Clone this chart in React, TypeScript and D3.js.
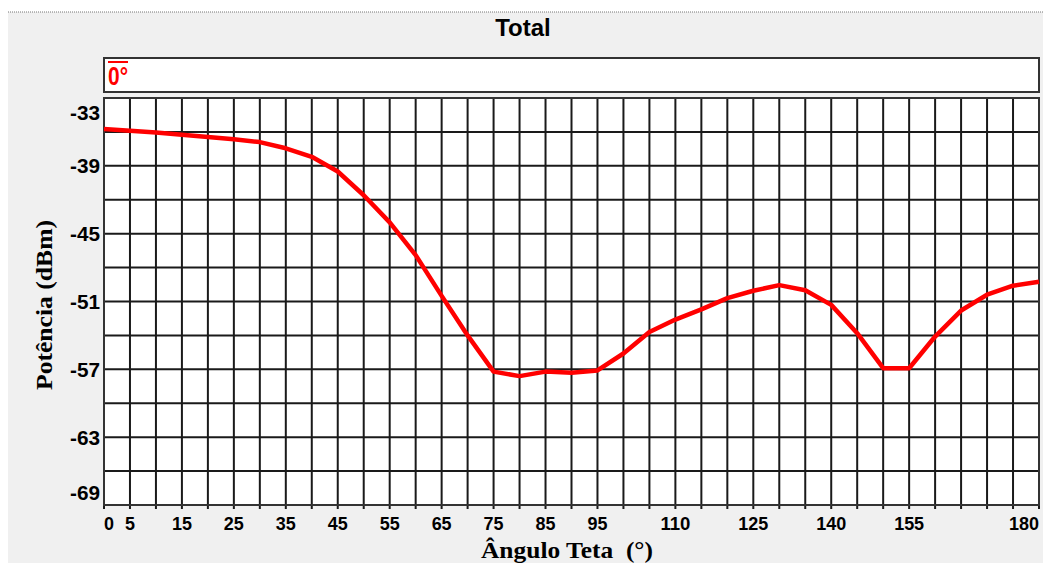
import React from "react";
import * as d3 from "d3";

const angles = [0, 5, 10, 15, 20, 25, 30, 35, 40, 45, 50, 55, 60, 65, 70, 75, 80, 85, 90, 95, 100, 105, 110, 115, 120, 125, 130, 135, 140, 145, 150, 155, 160, 165, 170, 175, 180];
const power = [-35.75, -35.9, -36.05, -36.25, -36.45, -36.65, -36.9, -37.45, -38.2, -39.5, -41.6, -44.0, -46.9, -50.5, -54.0, -57.2, -57.6, -57.2, -57.3, -57.1, -55.6, -53.7, -52.6, -51.7, -50.7, -50.05, -49.55, -50.0, -51.3, -53.8, -56.9, -56.9, -54.1, -51.8, -50.4, -49.6, -49.25];
const xTickLabels = [0, 5, 15, 25, 35, 45, 55, 65, 75, 85, 95, 110, 125, 140, 155, 180];
const yTickLabels = [-33, -39, -45, -51, -57, -63, -69];
const seriesName = "0°";
const chartTitle = "Total";
const xTitle = "Ângulo Teta\u00a0\u00a0(°)";
const yTitle = "Potência (dBm)";

const W = 1047;
const H = 563;
const L = 104, R = 1039, T = 98, B = 505;

export default function App() {
  const x = d3.scaleLinear().domain([0, 180]).range([L, R]);
  const y = d3.scaleLinear().domain([-69, -33]).range([B, T]);
  const xGrid = d3.range(0, 181, 5);
  const yGrid = d3.range(-69, -32, 3);
  const line = d3
    .line<number>()
    .x((_, i) => x(angles[i]))
    .y((d) => y(d))
    .curve(d3.curveLinear);
  const sans = "Arial, 'Liberation Sans', sans-serif";
  const serif = "'Times New Roman', 'Liberation Serif', serif";
  const clamp = (v: number, lo: number, hi: number) => Math.max(lo, Math.min(hi, v));

  return (
    <svg width={W} height={H} style={{ position: "absolute", left: 0, top: 0 }}>
      <rect x={0} y={0} width={W} height={H} fill="#ffffff" />
      <rect x={8} y={12} width={1035} height={H - 12} fill="#f0f0f0" />
      <line x1={8} x2={1043} y1={12} y2={12} stroke="#777" strokeWidth={1} strokeDasharray="1,1" />
      <text x={523} y={36} textAnchor="middle" fontFamily={sans} fontWeight="bold" fontSize={24} fill="#000">
        {chartTitle}
      </text>
      {/* legend */}
      <rect x={104} y={58} width={935} height={34} fill="#fff" stroke="#333" strokeWidth={2} />
      <line x1={108} x2={128} y1={62} y2={62} stroke="#ff0000" strokeWidth={2} />
      <text x={108} y={85} fontFamily={sans} fontWeight="bold" fontSize={25} fill="#ff0000" textLength={20} lengthAdjust="spacingAndGlyphs">
        {seriesName}
      </text>
      {/* plot */}
      <rect x={L} y={T} width={R - L} height={B - T} fill="#fff" />
      {xGrid.map((g) => (
        <line key={"vx" + g} x1={x(g)} x2={x(g)} y1={T} y2={B + 4} stroke="#1a1a1a" strokeWidth={2} />
      ))}
      {yGrid.map((g) => (
        <line key={"hy" + g} x1={L} x2={R} y1={y(g)} y2={y(g)} stroke="#1a1a1a" strokeWidth={2} />
      ))}
      <rect x={L} y={T} width={R - L} height={B - T} fill="none" stroke="#333" strokeWidth={2} />
      <path d={line(power) || ""} fill="none" stroke="#ff0000" strokeWidth={4.5} strokeLinejoin="round" />
      {xTickLabels.map((v) => {
        const w = String(v).length * 10;
        const cx = clamp(x(v), L + w / 2, R - w / 2);
        return (
          <text key={"xl" + v} x={cx} y={530} textAnchor="middle" fontFamily={sans} fontWeight="bold" fontSize={19} fill="#000" textLength={w} lengthAdjust="spacingAndGlyphs">
            {v}
          </text>
        );
      })}
      {yTickLabels.map((v) => {
        const cy = clamp(y(v), T + 14, B - 13);
        return (
          <text key={"yl" + v} x={100} y={cy + 7.5} textAnchor="end" fontFamily={sans} fontWeight="bold" fontSize={21} fill="#000" textLength={30} lengthAdjust="spacingAndGlyphs">
            {v}
          </text>
        );
      })}
      <text x={567} y={558} textAnchor="middle" fontFamily={serif} fontWeight="bold" fontSize={23} fill="#000" textLength={172} lengthAdjust="spacingAndGlyphs">
        {xTitle}
      </text>
      <text
        transform="translate(52,305) rotate(-90)"
        textAnchor="middle"
        fontFamily={serif}
        fontWeight="bold"
        fontSize={23}
        fill="#000"
        textLength={170}
        lengthAdjust="spacingAndGlyphs"
      >
        {yTitle}
      </text>
    </svg>
  );
}
